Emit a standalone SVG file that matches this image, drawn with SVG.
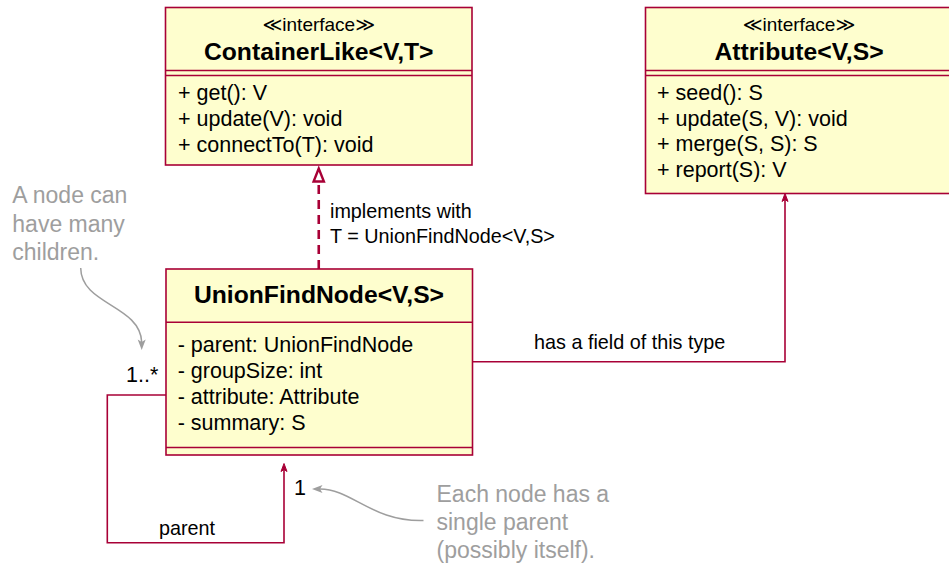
<svg xmlns="http://www.w3.org/2000/svg" width="949" height="564" viewBox="0 0 949 564">
<style>
text{font-family:"Liberation Sans",Arial,"DejaVu Sans",sans-serif;fill:#000}
.box{fill:#FEFECE;stroke:#A80036;stroke-width:1.6}
.div{stroke:#A80036;stroke-width:1.6;fill:none}
.st{font-size:19px;text-anchor:middle}
.ti{font-size:24.7px;font-weight:bold;text-anchor:middle}
.mb{font-size:21.5px}
.lb{font-size:19.8px}
.mult{font-size:21.5px}
.note{font-size:23px;fill:#9E9E9E}
.edge{fill:none;stroke:#A80036;stroke-width:1.6}
.dash{fill:none;stroke:#A80036;stroke-width:2.6;stroke-dasharray:9,6}
.ah{fill:#A80036;stroke:#A80036;stroke-width:1}
.ncurve{fill:none;stroke:#9E9E9E;stroke-width:1.5}
.nah{fill:#9E9E9E;stroke:none}
</style>

<g id="ContainerLike">
<rect class="box" x="165.5" y="7.5" width="306.5" height="157.5"/>
<line class="div" x1="165.5" y1="70.5" x2="472" y2="70.5"/>
<line class="div" x1="165.5" y1="75.5" x2="472" y2="75.5"/>
<text class="st" x="318.75" y="30.5">≪interface≫</text>
<text class="ti" x="318.75" y="60">ContainerLike&lt;V,T&gt;</text>
<text class="mb" x="178" y="100">+ get(): V</text>
<text class="mb" x="178" y="126">+ update(V): void</text>
<text class="mb" x="178" y="152">+ connectTo(T): void</text>
</g>

<g id="Attribute">
<rect class="box" x="645.5" y="7.5" width="307" height="186"/>
<line class="div" x1="645.5" y1="70.5" x2="952.5" y2="70.5"/>
<line class="div" x1="645.5" y1="75.5" x2="952.5" y2="75.5"/>
<text class="st" x="799" y="30.5">≪interface≫</text>
<text class="ti" x="799" y="60">Attribute&lt;V,S&gt;</text>
<text class="mb" x="657" y="100">+ seed(): S</text>
<text class="mb" x="657" y="125.7">+ update(S, V): void</text>
<text class="mb" x="657" y="151.3">+ merge(S, S): S</text>
<text class="mb" x="657" y="177">+ report(S): V</text>
</g>

<g id="UnionFindNode">
<rect class="box" x="166" y="269" width="306.5" height="186"/>
<line class="div" x1="166" y1="322.3" x2="472.5" y2="322.3"/>
<line class="div" x1="166" y1="447.5" x2="472.5" y2="447.5"/>
<text class="ti" x="319" y="303.3">UnionFindNode&lt;V,S&gt;</text>
<text class="mb" x="177.7" y="351.5">- parent: UnionFindNode</text>
<text class="mb" x="177.7" y="377.5">- groupSize: int</text>
<text class="mb" x="177.7" y="403.5">- attribute: Attribute</text>
<text class="mb" x="177.7" y="429.8">- summary: S</text>
</g>

<g id="connectors">
<line class="dash" x1="318.75" y1="269" x2="318.75" y2="182"/>
<polygon points="318.75,168.5 313.6,181.5 323.9,181.5" fill="#FFFFFF" stroke="#A80036" stroke-width="2.4"/>
<text class="lb" x="330" y="218.3">implements with</text>
<text class="lb" x="330" y="242.7">T = UnionFindNode&lt;V,S&gt;</text>

<polyline class="edge" points="472.5,361.7 785,361.7 785,199"/>
<polygon class="ah" points="785,193.5 782,201.5 785,199.5 788,201.5"/>
<text class="lb" x="534" y="348.5">has a field of this type</text>

<polyline class="edge" points="166,395 107.3,395 107.3,542.7 284,542.7 284,469"/>
<polygon class="ah" points="284,463.5 281,471.5 284,469.5 287,471.5"/>
<text class="lb" x="159" y="534.5">parent</text>
<text class="mult" x="126" y="381.5">1..*</text>
<text class="mult" x="294" y="495">1</text>
</g>

<g id="note-children">
<text class="note" x="12.3" y="203.3">A node can</text>
<text class="note" x="12.3" y="231.5">have many</text>
<text class="note" x="12.3" y="259.5">children.</text>
<path class="ncurve" d="M80.7,268 C81,305 140,305 141.7,342"/>
<polygon class="nah" points="141.7,350 137.7,339.5 141.7,342 145.7,339.5"/>
</g>

<g id="note-parent">
<text class="note" x="436.5" y="501.5">Each node has a</text>
<text class="note" x="436.5" y="529.5">single parent</text>
<text class="note" x="436.5" y="557.5">(possibly itself).</text>
<path class="ncurve" d="M423.5,520.5 C372,522 352,489 320,489"/>
<polygon class="nah" points="312,489 322.5,485 320,489 322.5,493"/>
</g>
</svg>
